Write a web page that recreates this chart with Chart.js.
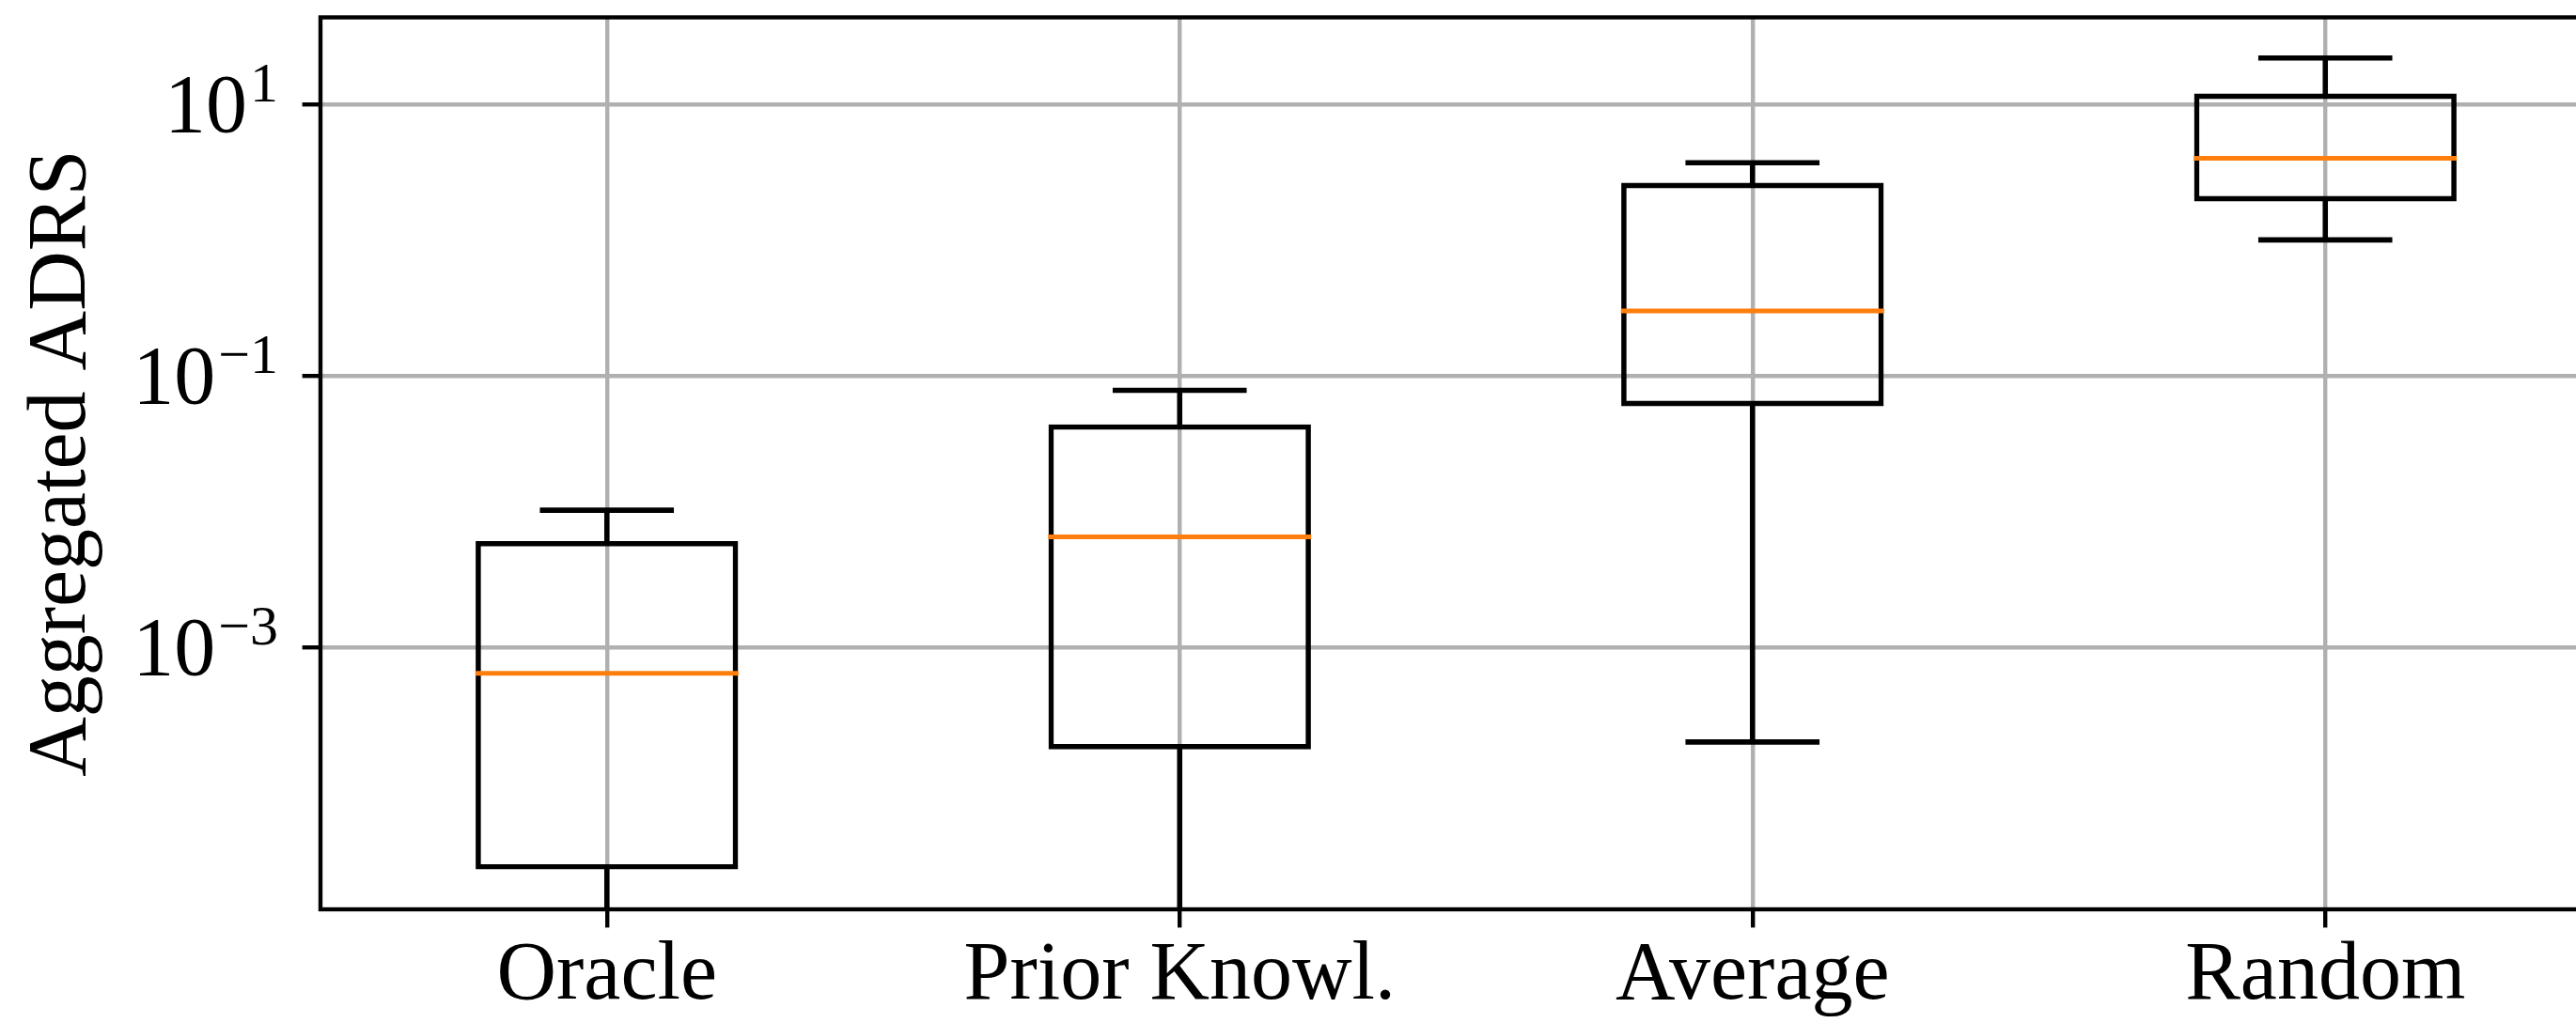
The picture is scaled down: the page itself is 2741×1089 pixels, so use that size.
<!DOCTYPE html>
<html><head><meta charset="utf-8">
<script src="https://cdn.jsdelivr.net/npm/chart.js@4"></script>
<style>html,body{margin:0;padding:0;overflow:hidden;background:#fff}canvas{display:block}</style>
</head><body>
<canvas id="c" width="2800" height="1089" style="width:2800px;height:1089px"></canvas>
<script>
// ---- data (box-plot statistics) ----
const categories = ['Oracle', 'Prior Knowl.', 'Average', 'Random'];
const whiskerHigh = [0.0102, 0.078, 3.7, 21.9];
const upperQuartile = [0.0058, 0.042, 2.53, 11.5];
const medians = [0.00064, 0.0065, 0.30, 4.0];
const lowerQuartile = [2.4e-5, 1.84e-4, 0.062, 2.0];
const whiskerLow = [0, 0, 2.0e-4, 1.0];   // 0 = whisker reaches zero (off the log axis)
const yTickValues = [1e-3, 1e-1, 1e1];
const yLimits = [1.17e-5, 43.6];
const yTitle = 'Aggregated ADRS';

const FONT = 'Liberation Serif';
const LW_BOX = 5.56, LW_AX = 4.4;

// whiskers that reach 0 cannot be shown on a log axis: run them to the axis bottom, no cap
const lowWhiskerPlot = whiskerLow.map(v => v > 0 ? v : yLimits[0]);
const lowCaps = whiskerLow.map(v => v > 0 ? v : null);

const framePlugin = {
  id: 'frame',
  afterDatasetsDraw(chart) {
    const {ctx, chartArea: a} = chart;
    ctx.save();
    ctx.strokeStyle = '#000';
    ctx.lineWidth = LW_AX;
    ctx.strokeRect(a.left, a.top, a.right - a.left, a.bottom - a.top);
    ctx.restore();
  }
};

const yLabelPlugin = {
  id: 'ylabels',
  afterDraw(chart) {
    const s = chart.scales.y, ctx = chart.ctx;
    const right = s.right - 19.4 - 25.6;
    ctx.save();
    ctx.fillStyle = '#000';
    ctx.textBaseline = 'alphabetic';
    ctx.textAlign = 'right';
    s.ticks.forEach(t => {
      const y = s.getPixelForValue(t.value);
      const e = Math.round(Math.log10(t.value));
      const expText = (e < 0 ? '\u2212' : '') + Math.abs(e);
      ctx.font = '60px "' + FONT + '"';
      ctx.fillText(expText, right, y - 3);
      const w = ctx.measureText(expText).width;
      ctx.font = '88px "' + FONT + '"';
      ctx.fillText('10', right - w - 3, y + 29);
    });
    ctx.restore();
  }
};

new Chart(document.getElementById('c'), {
  type: 'bar',
  data: {
    labels: categories,
    datasets: [
      { type: 'line', label: 'median', data: medians, showLine: false,
        pointStyle: 'line', pointRadius: 140, pointHoverRadius: 140,
        pointBorderWidth: 5, pointBorderColor: '#ff7f0e', borderColor: '#ff7f0e', order: 0 },
      { type: 'line', label: 'upper cap', data: whiskerHigh, showLine: false,
        pointStyle: 'line', pointRadius: 71.3, pointHoverRadius: 71.3,
        pointBorderWidth: LW_BOX, pointBorderColor: '#000', borderColor: '#000', order: 1 },
      { type: 'line', label: 'lower cap', data: lowCaps, showLine: false,
        pointStyle: 'line', pointRadius: 71.3, pointHoverRadius: 71.3,
        pointBorderWidth: LW_BOX, pointBorderColor: '#000', borderColor: '#000', order: 1 },
      { label: 'upper whisker', data: upperQuartile.map((q, i) => [q, whiskerHigh[i]]),
        backgroundColor: '#000', borderWidth: 0, barThickness: LW_BOX, grouped: false,
        inflateAmount: 0, clip: 0, order: 2 },
      { label: 'lower whisker', data: lowerQuartile.map((q, i) => [lowWhiskerPlot[i], q]),
        backgroundColor: '#000', borderWidth: 0, barThickness: LW_BOX, grouped: false,
        inflateAmount: 0, clip: 0, order: 2 },
      { label: 'box', data: lowerQuartile.map((q, i) => [q, upperQuartile[i]]),
        backgroundColor: 'rgba(0,0,0,0)', borderColor: '#000', borderWidth: 0.5,
        inflateAmount: 2.53, borderSkipped: false, barPercentage: 0.45, categoryPercentage: 1,
        grouped: false, order: 3 }
    ]
  },
  options: {
    responsive: false,
    animation: false,
    events: [],
    layout: { autoPadding: false, padding: { top: 18.5, right: 21, left: 0, bottom: 0 } },
    plugins: { legend: { display: false }, tooltip: { enabled: false } },
    scales: {
      x: {
        type: 'category', offset: true,
        grid: { offset: false, color: '#b0b0b0', lineWidth: LW_AX, tickColor: '#000', tickWidth: LW_AX, tickLength: 19.4 },
        border: { display: false },
        ticks: { font: { family: FONT, size: 88 }, color: '#000', padding: 0, autoSkip: false, maxRotation: 0 },
        afterFit: s => { s.height = 121; }
      },
      y: {
        type: 'logarithmic', position: 'left', min: yLimits[0], max: yLimits[1], bounds: 'data',
        afterBuildTicks: s => { s.ticks = yTickValues.map(v => ({ value: v })); },
        afterFit: s => { s.width = 341; },
        ticks: { display: false },
        grid: { color: '#b0b0b0', lineWidth: LW_AX, tickColor: '#000', tickWidth: LW_AX, tickLength: 19.4 },
        border: { display: false },
        title: { display: true, text: yTitle, color: '#000', font: { family: FONT, size: 88 }, padding: { top: 14.5, bottom: 0 } }
      }
    }
  },
  plugins: [framePlugin, yLabelPlugin]
});
</script>
</body></html>
